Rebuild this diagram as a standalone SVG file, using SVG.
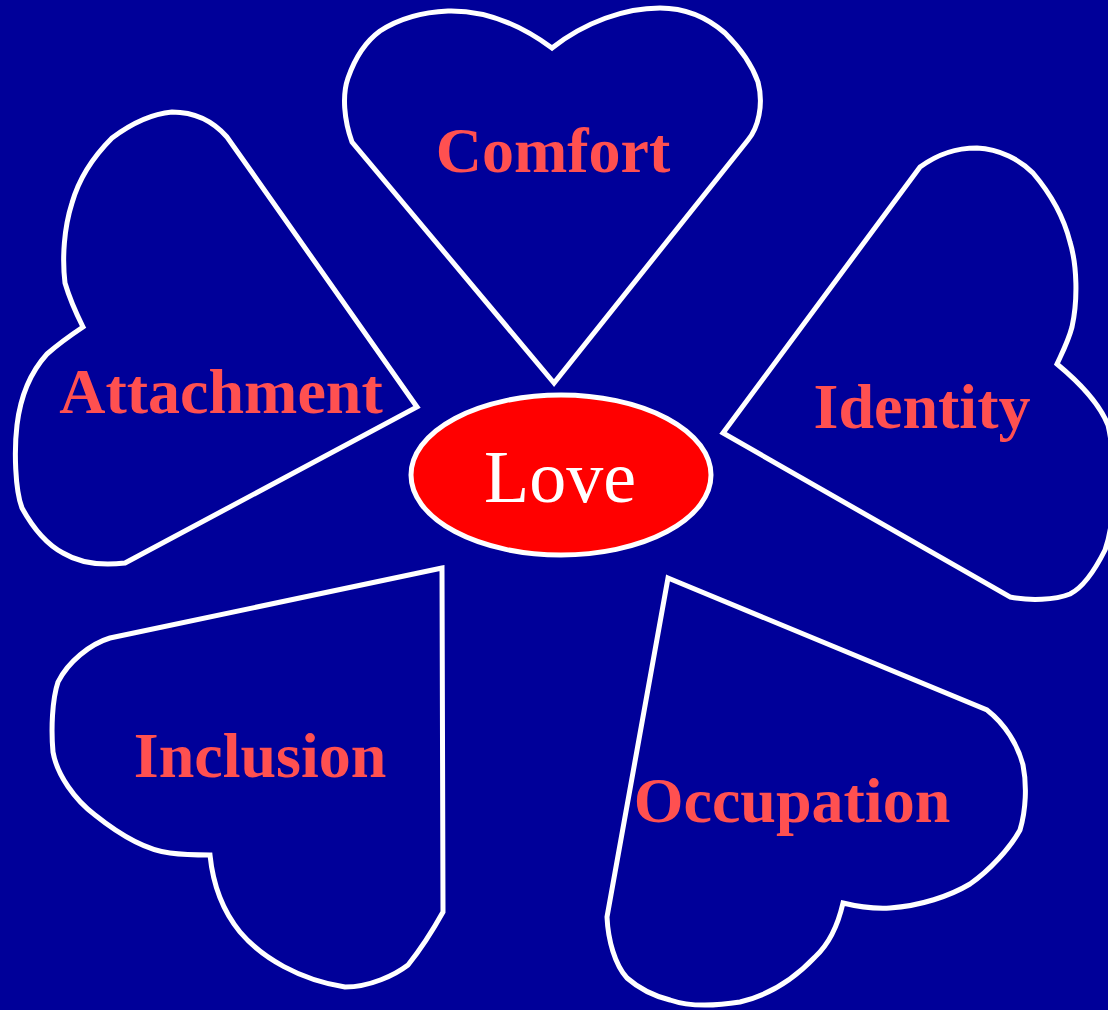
<svg xmlns="http://www.w3.org/2000/svg" width="1108" height="1010" viewBox="0 0 1108 1010">
<style>
.heart{fill:#000099;stroke:#ffffff;stroke-width:5;stroke-linejoin:miter}
.lbl{font-family:"Liberation Serif","Times New Roman",serif;font-weight:bold;font-size:64px;fill:#ff5050;text-anchor:middle}
.love{font-family:"Liberation Serif","Times New Roman",serif;font-size:74px;fill:#ffffff;text-anchor:middle}
</style>
<rect x="0" y="0" width="1108" height="1010" fill="#000099"/>
<g id="comfort">
<path class="heart" d="M554,383 L352,142 C344,120 342,95 348,78 C355,58 365,42 380,31 C400,18 425,12 448,11 C490,10 525,28 552,48 C585,22 625,8 660,8 C690,8 710,20 725,33 C740,48 752,65 758,82 C764,105 758,128 748,140 Z"/>
<text class="lbl" x="553" y="172">Comfort</text>
</g>
<g id="attachment">
<path class="heart" d="M417,407 L227,137 C212,120 195,112 172,112 C150,114 128,126 112,138 C92,158 78,182 72,203 C64,228 62,258 65,283 C70,300 77,315 83,327 C68,337 55,347 47,354 C28,375 20,400 17,425 C14,450 15,490 22,508 C33,528 48,545 63,553 C78,562 100,566 125,563 Z"/>
<text class="lbl" x="221" y="413">Attachment</text>
</g>
<g id="identity">
<path class="heart" d="M723,433 L920,167 C938,154 955,148 977,148 C1000,149 1020,160 1033,173 C1050,193 1064,218 1070,242 C1077,265 1078,300 1072,327 C1068,342 1062,353 1057,364 C1080,383 1100,405 1108,425 C1116,460 1116,520 1105,550 C1095,570 1082,588 1070,594 C1055,600 1030,601 1010,597 Z"/>
<text class="lbl" x="922" y="428">Identity</text>
</g>
<g id="inclusion">
<path class="heart" d="M442,568 L110,638 C90,644 68,662 58,682 C52,700 51,730 53,752 C57,775 75,800 95,815 C120,835 145,850 170,853 C185,855 200,855 210,855 C212,875 218,905 240,932 C262,958 300,980 345,987 C370,987 395,975 408,965 C420,950 433,930 443,912 Z"/>
<text class="lbl" x="260" y="777">Inclusion</text>
</g>
<g id="occupation">
<path class="heart" d="M668,578 L987,710 C1005,724 1018,745 1023,765 C1027,785 1026,810 1020,830 C1010,848 990,870 970,884 C950,896 920,906 890,908 C870,909 855,906 843,903 C838,925 828,945 815,957 C795,978 770,995 740,1002 C715,1006 690,1007 670,1000 C650,995 635,985 627,978 C615,965 608,940 607,917 Z"/>
<text class="lbl" x="792" y="822">Occupation</text>
</g>
<g id="love">
<ellipse cx="561" cy="475" rx="150" ry="80" fill="#ff0000" stroke="#ffffff" stroke-width="5"/>
<text class="love" x="560" y="502">Love</text>
</g>
</svg>
